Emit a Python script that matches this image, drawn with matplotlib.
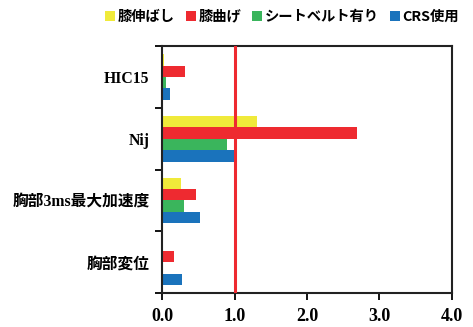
import matplotlib
matplotlib.use("Agg")
import matplotlib.pyplot as plt
import numpy as np
from matplotlib.patches import Patch

categories = ["HIC15", "Nij", "胸部3ms最大加速度", "胸部変位"]
series_names = ["膝伸ばし", "膝曲げ", "シートベルト有り", "CRS使用"]
knee_straight = [0.03, 1.31, 0.26, 0.02]
knee_bent = [0.32, 2.69, 0.47, 0.17]
seatbelt = [0.06, 0.90, 0.30, 0.01]
crs = [0.11, 1.01, 0.52, 0.28]
colors = ["#F0EA3A", "#EE2A30", "#3AB55C", "#1A73BC"]
x_ticks = [0.0, 1.0, 2.0, 3.0, 4.0]
x_tick_labels = ["0.0", "1.0", "2.0", "3.0", "4.0"]
threshold = 1.0

fam = ["Liberation Serif", "Noto Sans CJK JP"]
cjk = ["Noto Sans CJK JP", "DejaVu Sans"]

fig = plt.figure(figsize=(4.73, 3.27), dpi=100)
ax = fig.add_axes([0.3425, 0.104, 0.6131, 0.755])

series = [knee_straight, knee_bent, seatbelt, crs]
n = len(categories)
bh = 0.185
ypos = np.arange(n)
for i, (vals, c) in enumerate(zip(series, colors)):
    offs = (i - 1.5) * bh
    ax.barh(ypos + offs, vals, height=bh, color=c, edgecolor="none", zorder=2)

ax.axvline(threshold, color="#EE2A30", lw=2.2, zorder=3)

ax.set_xlim(0, 4.0)
ax.set_ylim(n - 0.5, -0.5)
ax.set_xticks(x_ticks)
ax.set_xticklabels(x_tick_labels, fontfamily=fam, fontweight="bold", fontsize=13)
ax.set_yticks(ypos)
ax.set_yticklabels(categories, fontfamily=fam, fontweight="bold", fontsize=11.3)
ax.set_yticks(np.arange(-0.5, n, 1.0), minor=True)
ax.tick_params(axis="y", which="major", length=0, pad=9)
ax.tick_params(axis="y", which="minor", length=5, width=1.3, direction="out")
ax.tick_params(axis="x", which="major", length=5, width=1.3, direction="out", pad=6)
for s in ax.spines.values():
    s.set_linewidth(1.5)
    s.set_color("#222222")

handles = [Patch(facecolor=c, edgecolor="none") for c in colors]
fig.legend(handles, series_names, loc="upper right", bbox_to_anchor=(0.998, 1.01),
           ncol=4, frameon=False, handlelength=0.7, handleheight=0.7,
           handletextpad=0.2, columnspacing=0.75,
           prop={"family": cjk, "weight": "bold", "size": 10.3})

fig.savefig("out.png", dpi=100)
